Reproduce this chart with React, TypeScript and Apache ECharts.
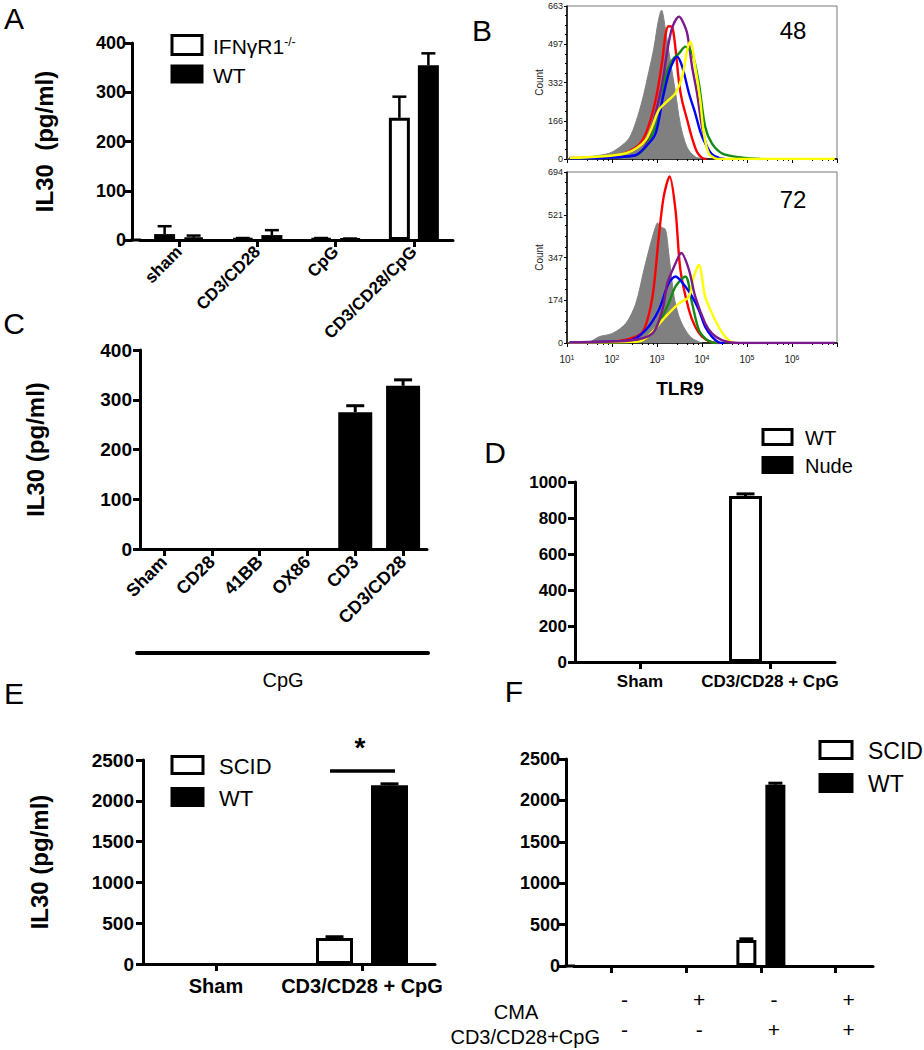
import React, { useEffect, useRef } from "react";
import * as echarts from "echarts";

const FONT = '"Liberation Sans", Arial, Helvetica, sans-serif';

// ---------- Panel A ----------
const catsA = ["sham", "CD3/CD28", "CpG", "CD3/CD28/CpG"];
const ifnA = [12, 3, 3, 248];
const ifnErrA = [16, 1, 1, 43];
const wtA = [5, 10, 2, 355];
const wtErrA = [4, 10, 1, 24];

// ---------- Panel B (log10 intensity, count) ----------
const b48Gray = [[1.0, 0], [1.06, 3], [1.57, 12], [1.94, 25], [2.16, 50], [2.38, 90], [2.53, 160], [2.68, 260], [2.82, 380], [2.93, 480], [3.03, 600], [3.1, 645], [3.19, 560], [3.3, 420], [3.41, 290], [3.52, 150], [3.67, 50], [3.85, 10], [4.07, 0]];
const b48Red = [[1.06, 5], [2.0, 10], [2.53, 50], [2.75, 110], [2.97, 256], [3.12, 430], [3.19, 540], [3.26, 575], [3.34, 570], [3.41, 480], [3.49, 330], [3.56, 250], [3.67, 170], [3.78, 90], [3.89, 30], [4.0, 5], [4.1, 0]];
const b48Purple = [[1.06, 3], [2.5, 15], [2.75, 60], [2.97, 200], [3.12, 330], [3.23, 470], [3.34, 570], [3.49, 617], [3.56, 600], [3.67, 545], [3.78, 400], [3.89, 285], [4.0, 140], [4.11, 53], [4.22, 20], [4.37, 3], [4.5, 0]];
const b48Blue = [[1.06, 3], [2.5, 15], [2.75, 53], [2.97, 111], [3.12, 256], [3.26, 371], [3.38, 430], [3.45, 443], [3.56, 400], [3.71, 285], [3.85, 198], [3.96, 120], [4.07, 68], [4.22, 20], [4.4, 3], [4.5, 0]];
const b48Green = [[1.06, 3], [2.5, 15], [2.75, 53], [3.04, 183], [3.19, 357], [3.34, 429], [3.49, 458], [3.63, 487], [3.78, 460], [3.93, 328], [4.07, 140], [4.22, 68], [4.44, 25], [4.74, 10], [5.1, 2], [5.3, 0]];
const b48Yellow = [[1.06, 5], [2.31, 25], [2.75, 82], [3.04, 212], [3.26, 256], [3.41, 285], [3.56, 357], [3.67, 472], [3.74, 508], [3.85, 400], [3.96, 256], [4.04, 111], [4.15, 25], [4.29, 3], [4.4, 0], [6.95, 0]];

const b72Gray = [[1.0, 0], [1.5, 5], [1.72, 26], [2.01, 39], [2.31, 80], [2.53, 161], [2.71, 297], [2.86, 405], [2.97, 473], [3.01, 487], [3.1, 470], [3.19, 460], [3.26, 365], [3.38, 188], [3.49, 107], [3.63, 53], [3.78, 19], [4.0, 0]];
const b72Red = [[1.06, 3], [2.0, 5], [2.53, 26], [2.71, 53], [2.9, 188], [3.04, 432], [3.15, 595], [3.28, 676], [3.41, 541], [3.52, 297], [3.71, 134], [3.85, 66], [4.0, 26], [4.22, 3], [4.4, 0]];
const b72Purple = [[1.06, 3], [2.4, 10], [2.9, 39], [3.12, 134], [3.23, 243], [3.38, 310], [3.54, 365], [3.71, 297], [3.85, 188], [4.07, 80], [4.22, 39], [4.44, 12], [4.66, 2], [4.8, 0], [6.95, 0]];
const b72Blue = [[1.06, 3], [2.4, 10], [2.75, 53], [3.04, 134], [3.26, 243], [3.41, 270], [3.63, 229], [3.78, 188], [3.93, 134], [4.07, 66], [4.22, 26], [4.37, 3], [4.5, 0]];
const b72Green = [[1.06, 3], [2.4, 5], [2.75, 19], [3.04, 80], [3.26, 161], [3.41, 229], [3.63, 270], [3.78, 161], [3.93, 53], [4.07, 19], [4.22, 3], [4.35, 0]];
const b72Yellow = [[1.06, 3], [2.5, 5], [2.75, 19], [3.19, 107], [3.49, 161], [3.71, 188], [3.82, 270], [3.93, 317], [4.07, 188], [4.22, 121], [4.37, 66], [4.51, 26], [4.66, 3], [4.8, 0]];

// ---------- Panel C ----------
const catsC = ["Sham", "CD28", "41BB", "OX86", "CD3", "CD3/CD28"];
const valsC = [0, 0, 0, 0, 275, 328];
const errsC = [0, 0, 0, 0, 13, 12];

// ---------- Panel D ----------
const catsD = ["Sham", "CD3/CD28 + CpG"];
const wtD = [0, 922];
const wtErrD = [0, 12];
const nudeD = [0, 0];

// ---------- Panel E ----------
const catsE = ["Sham", "CD3/CD28 + CpG"];
const scidE = [0, 320];
const scidErrE = [0, 14];
const wtE = [0, 2190];
const wtErrE = [0, 18];

// ---------- Panel F ----------
const cmaRow = ["-", "+", "-", "+"];
const cpgRow = ["-", "-", "+", "+"];
const scidF = [0, 0, 314, 0];
const scidErrF = [0, 0, 14, 0];
const wtF = [0, 0, 2190, 0];
const wtErrF = [0, 0, 18, 0];

// zero-height bars are not drawn in the original
const nz = (a: number[]) => a.map((v) => (v === 0 ? null : v));

function errorBars(gi: number, vals: number[], errs: number[], offset: number, cap: number, lw: number) {
  return {
    type: "custom",
    xAxisIndex: gi,
    yAxisIndex: gi,
    z: 3,
    silent: true,
    data: vals.map((v, i) => [i, v, v + errs[i], errs[i]]),
    encode: { x: 0, y: 2 },
    renderItem: (params: any, api: any) => {
      if (!(api.value(3) > 0)) return { type: "group", children: [] };
      const b = api.coord([api.value(0), api.value(1)]);
      const t = api.coord([api.value(0), api.value(2)]);
      const x = b[0] + offset;
      return {
        type: "group",
        children: [
          { type: "line", shape: { x1: x, y1: b[1], x2: x, y2: t[1] }, style: { stroke: "#000", lineWidth: lw } },
          { type: "line", shape: { x1: x - cap, y1: t[1], x2: x + cap, y2: t[1] }, style: { stroke: "#000", lineWidth: lw } },
        ],
      };
    },
  };
}

function catX(gi: number, data: string[], label: any) {
  return {
    type: "category",
    gridIndex: gi,
    data,
    axisLine: { show: true, lineStyle: { color: "#000", width: 3 } },
    axisTick: { show: true, alignWithLabel: true, length: 7, lineStyle: { color: "#000", width: 3 } },
    axisLabel: { color: "#000", fontFamily: FONT, fontWeight: "bold", interval: 0, ...label },
    splitLine: { show: false },
  };
}

function valY(gi: number, max: number, interval: number, fontSize: number, margin: number, extra: any = {}) {
  return {
    type: "value",
    gridIndex: gi,
    min: 0,
    max,
    interval,
    axisLine: { show: true, lineStyle: { color: "#000", width: 3 } },
    axisTick: { show: true, length: 7, lineStyle: { color: "#000", width: 3 } },
    axisLabel: { color: "#000", fontFamily: FONT, fontWeight: "bold", fontSize, margin, formatter: (v: number) => String(v) },
    splitLine: { show: false },
    nameTextStyle: { color: "#000", fontFamily: FONT, fontWeight: "bold", fontSize: 24 },
    ...extra,
  };
}

function logX(gi: number, showLabels: boolean) {
  return {
    type: "log",
    gridIndex: gi,
    logBase: 10,
    min: 10,
    max: 1e7,
    splitNumber: 6,
    axisLine: { show: true, onZero: false, lineStyle: { color: "#000", width: 1.5 } },
    axisTick: { show: true, length: 4, lineStyle: { color: "#000", width: 1 } },
    minorTick: { show: true, splitNumber: 5, length: 2, lineStyle: { color: "#000", width: 1 } },
    splitLine: { show: false },
    axisLabel: showLabels
      ? {
          margin: 11,
          formatter: (v: number) => {
            const e = Math.round(Math.log10(v));
            if (e > 6) return "";
            return "{b|10}{s|" + e + "}";
          },
          rich: {
            b: { fontSize: 10, color: "#222", fontFamily: FONT },
            s: { fontSize: 7, color: "#222", fontFamily: FONT, verticalAlign: "top" },
          },
        }
      : { show: false },
  };
}

function countY(gi: number, max: number) {
  return {
    type: "value",
    gridIndex: gi,
    min: 0,
    max,
    interval: max / 4,
    axisLine: { show: true, lineStyle: { color: "#000", width: 1.5 } },
    axisTick: { show: true, length: 3, lineStyle: { color: "#000" } },
    minorTick: { show: true, splitNumber: 4, length: 2, lineStyle: { color: "#000" } },
    splitLine: { show: false },
    axisLabel: { fontSize: 9, color: "#222", margin: 4, fontFamily: FONT, formatter: (v: number) => String(Math.round(v)) },
    name: "Count",
    nameLocation: "middle",
    nameGap: 22,
    nameTextStyle: { fontSize: 10, color: "#222", fontFamily: FONT },
  };
}

function flow(gi: number, pts: number[][], color: string, fill = false) {
  return {
    type: "line",
    xAxisIndex: gi,
    yAxisIndex: gi,
    data: pts.map(([l, c]) => [Math.pow(10, l), c]),
    showSymbol: false,
    smooth: 0.3,
    silent: true,
    z: fill ? 1 : 2,
    lineStyle: { color, width: fill ? 1 : 2.4 },
    areaStyle: fill ? { color, opacity: 1 } : undefined,
  };
}

function txt(text: string, x: number, y: number, fontSize: number, opts: any = {}) {
  return {
    type: "text",
    x,
    y,
    silent: true,
    style: {
      text,
      fontSize,
      fontFamily: FONT,
      fill: "#000",
      align: "center",
      verticalAlign: "middle",
      ...opts,
    },
  };
}

function legendBox(x: number, y: number, fill: string, w = 30, h = 17) {
  return {
    type: "rect",
    silent: true,
    shape: { x, y: y - h / 2, width: w, height: h },
    style: { fill, stroke: "#000", lineWidth: 3 },
  };
}

const whiteBar = { color: "#fff", borderColor: "#000", borderWidth: 3 };
const blackBar = { color: "#000", borderColor: "#000", borderWidth: 3 };

export default function App() {
  const ref = useRef<HTMLDivElement>(null);

  useEffect(() => {
    if (!ref.current) return;
    const chart = echarts.init(ref.current, undefined, { renderer: "svg" });

    const catsF = cmaRow.map((c, i) => c + "\n" + cpgRow[i]);

    const option: any = {
      animation: false,
      backgroundColor: "#fff",
      textStyle: { fontFamily: FONT },
      grid: [
        { left: 140, top: 43, width: 313, height: 197, outerBoundsMode: "none" },
        { left: 567, top: 6, width: 270, height: 153, show: true, borderColor: "#777", borderWidth: 1, backgroundColor: "transparent", outerBoundsMode: "none" },
        { left: 567, top: 172, width: 270, height: 171, show: true, borderColor: "#777", borderWidth: 1, backgroundColor: "transparent", outerBoundsMode: "none" },
        { left: 140, top: 350, width: 287, height: 199, outerBoundsMode: "none" },
        { left: 575, top: 482, width: 260, height: 180, outerBoundsMode: "none" },
        { left: 143, top: 760, width: 292, height: 204, outerBoundsMode: "none" },
        { left: 574, top: 759, width: 299, height: 207, outerBoundsMode: "none" },
      ],
      xAxis: [
        catX(0, catsA, { rotate: 45, fontSize: 17, margin: 9 }),
        logX(1, false),
        logX(2, true),
        catX(3, catsC, { rotate: 45, fontSize: 18, margin: 10 }),
        catX(4, catsD, { fontSize: 17, margin: 11 }),
        catX(5, catsE, { fontSize: 20, margin: 12 }),
        catX(6, catsF, { fontSize: 21, fontWeight: "normal", lineHeight: 30, margin: 18, padding: [0, 0, 0, 26] }),
      ],
      yAxis: [
        valY(0, 400, 100, 18, 6, { offset: 8, name: "IL30  (pg/ml)", nameLocation: "middle", nameGap: 76 }),
        countY(1, 663),
        countY(2, 694),
        valY(3, 400, 100, 19, 8, { name: "IL30 (pg/ml)", nameLocation: "middle", nameGap: 93 }),
        valY(4, 1000, 200, 17, 8),
        valY(5, 2500, 500, 19, 9, { name: "IL30 (pg/ml)", nameLocation: "middle", nameGap: 92 }),
        valY(6, 2500, 500, 18, 6, { offset: 8 }),
      ],
      series: [
        // A
        { type: "bar", name: "IFNγR1-/-", xAxisIndex: 0, yAxisIndex: 0, data: ifnA, barWidth: 21, barGap: (8 / 21) * 100 + "%", itemStyle: whiteBar },
        { type: "bar", name: "WT", xAxisIndex: 0, yAxisIndex: 0, data: wtA, barWidth: 21, barGap: (8 / 21) * 100 + "%", itemStyle: blackBar },
        errorBars(0, ifnA, ifnErrA, -14.5, 7, 2.5),
        errorBars(0, wtA, wtErrA, 14.5, 7, 2.5),
        // B top
        flow(1, b48Gray, "#808080", true),
        flow(1, b48Red, "#ff0000"),
        flow(1, b48Purple, "#7a1a8c"),
        flow(1, b48Green, "#138a13"),
        flow(1, b48Blue, "#0000ff"),
        flow(1, b48Yellow, "#ffff00"),
        // B bottom
        flow(2, b72Gray, "#808080", true),
        flow(2, b72Red, "#ff0000"),
        flow(2, b72Green, "#138a13"),
        flow(2, b72Blue, "#0000ff"),
        flow(2, b72Yellow, "#ffff00"),
        flow(2, b72Purple, "#7a1a8c"),
        // C
        { type: "bar", name: "CpG", xAxisIndex: 3, yAxisIndex: 3, data: nz(valsC), barWidth: 34, itemStyle: blackBar },
        errorBars(3, valsC, errsC, 0, 9, 3),
        // D
        { type: "bar", name: "WT D", xAxisIndex: 4, yAxisIndex: 4, data: nz(wtD), barWidth: 33, barGap: (16 / 33) * 100 + "%", itemStyle: whiteBar },
        { type: "bar", name: "Nude", xAxisIndex: 4, yAxisIndex: 4, data: nz(nudeD), barWidth: 33, barGap: (16 / 33) * 100 + "%", itemStyle: blackBar },
        errorBars(4, wtD, wtErrD, -24.5, 9, 3),
        // E
        { type: "bar", name: "SCID E", xAxisIndex: 5, yAxisIndex: 5, data: nz(scidE), barWidth: 37, barGap: (18 / 37) * 100 + "%", itemStyle: whiteBar },
        { type: "bar", name: "WT E", xAxisIndex: 5, yAxisIndex: 5, data: nz(wtE), barWidth: 37, barGap: (18 / 37) * 100 + "%", itemStyle: blackBar },
        errorBars(5, scidE, scidErrE, -27.5, 9, 3),
        errorBars(5, wtE, wtErrE, 27.5, 9, 3),
        // F
        { type: "bar", name: "SCID F", xAxisIndex: 6, yAxisIndex: 6, data: nz(scidF), barWidth: 20, barGap: (9 / 20) * 100 + "%", itemStyle: whiteBar },
        { type: "bar", name: "WT F", xAxisIndex: 6, yAxisIndex: 6, data: nz(wtF), barWidth: 20, barGap: (9 / 20) * 100 + "%", itemStyle: blackBar },
        errorBars(6, scidF, scidErrF, -14.5, 7, 3),
        errorBars(6, wtF, wtErrF, 14.5, 7, 3),
      ],
      graphic: [
        // panel letters
        txt("A", 14, 18, 30),
        txt("B", 482, 30, 30),
        txt("C", 14, 323, 30),
        txt("D", 495, 452, 30),
        txt("E", 14, 693, 30),
        txt("F", 514, 691, 30),
        // axis-line corner joins for offset y-axes
        { type: "line", silent: true, shape: { x1: 130.5, y1: 240, x2: 141, y2: 240 }, style: { stroke: "#000", lineWidth: 3 } },
        { type: "line", silent: true, shape: { x1: 564.5, y1: 966, x2: 575, y2: 966 }, style: { stroke: "#000", lineWidth: 3 } },
        // A legend
        legendBox(172, 45, "#fff", 30, 19),
        legendBox(172, 74, "#000", 30, 16),
        {
          type: "text",
          x: 213,
          y: 46,
          silent: true,
          style: {
            text: "{a|IFNγR1}{s|-/-}",
            fontFamily: FONT,
            fill: "#000",
            align: "left",
            verticalAlign: "middle",
            rich: {
              a: { fontSize: 21, fontFamily: FONT, fill: "#000" },
              s: { fontSize: 12, fontFamily: FONT, fill: "#000", verticalAlign: "top" },
            },
          },
        },
        txt("WT", 213, 75, 21, { align: "left" }),
        // B annotations
        txt("48", 793, 30, 24),
        txt("72", 793, 199, 24),
        txt("TLR9", 680, 388, 19, { fontWeight: "bold" }),
        // C group bar
        { type: "line", silent: true, shape: { x1: 137, y1: 653, x2: 428, y2: 653 }, style: { stroke: "#000", lineWidth: 4, lineCap: "round" } },
        txt("CpG", 283, 680, 20),
        // D legend
        legendBox(763, 437, "#fff", 29, 15),
        legendBox(763, 465, "#000", 29, 15),
        txt("WT", 805, 438, 20, { align: "left" }),
        txt("Nude", 805, 466, 20, { align: "left" }),
        // E legend + significance
        legendBox(172, 765, "#fff", 31, 17),
        legendBox(172, 797, "#000", 31, 17),
        txt("SCID", 219, 766, 22, { align: "left" }),
        txt("WT", 219, 798, 22, { align: "left" }),
        { type: "line", silent: true, shape: { x1: 330, y1: 771, x2: 395, y2: 771 }, style: { stroke: "#000", lineWidth: 3.5 } },
        txt("*", 360, 747, 28, { fontWeight: "bold" }),
        // F legend + row labels
        legendBox(820, 750, "#fff", 32, 17),
        legendBox(820, 783, "#000", 32, 17),
        txt("SCID", 868, 751, 23, { align: "left" }),
        txt("WT", 868, 784, 23, { align: "left" }),
        txt("CMA", 516, 1012, 20),
        txt("CD3/CD28+CpG", 600, 1037, 20, { align: "right" }),
      ],
    };

    chart.setOption(option);
    return () => {
      chart.dispose();
    };
  }, []);

  return (
    <div
      ref={ref}
      style={{ position: "absolute", left: 0, top: 0, width: 924, height: 1050, background: "#fff" }}
    />
  );
}
